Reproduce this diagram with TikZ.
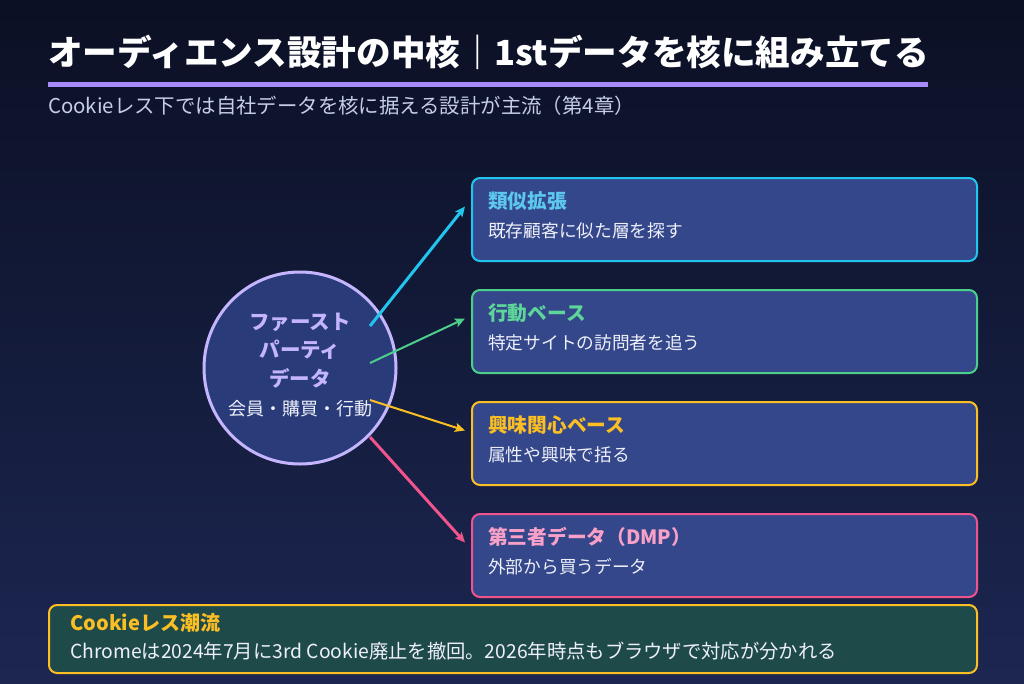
\documentclass[tikz,border=0pt]{standalone}
\usepackage{fontspec}
\setmainfont{Noto Sans CJK JP}
\usetikzlibrary{arrows.meta}
\definecolor{bgtop}{HTML}{0B1024}
\definecolor{bgbot}{HTML}{1C2651}
\definecolor{barpurple}{HTML}{A78BFA}
\definecolor{subtxt}{HTML}{C5CEE6}
\definecolor{lav}{HTML}{C4B5FD}
\definecolor{circfill}{HTML}{2A3B7A}
\definecolor{cardfill}{HTML}{34478A}
\definecolor{cyanc}{HTML}{22C5EE}
\definecolor{cyant}{HTML}{5CC8F0}
\definecolor{greenc}{HTML}{4CCF8A}
\definecolor{greent}{HTML}{5ED69A}
\definecolor{yelc}{HTML}{FBBF24}
\definecolor{pinkc}{HTML}{F0548C}
\definecolor{pinkt}{HTML}{F9A0C8}
\definecolor{notefill}{HTML}{1F4A4A}
\definecolor{bodytxt}{HTML}{EEF0FA}
\tikzset{
  card/.style={rectangle, rounded corners=8pt, line width=2pt, fill=cardfill, minimum width=505pt, minimum height=83pt, anchor=north west, inner sep=0},
  cardtitle/.style={anchor=west, inner sep=0, font=\fontsize{19.7}{23}\selectfont\bfseries},
  cardbody/.style={anchor=west, inner sep=0, text=bodytxt, font=\fontsize{17.7}{21}\selectfont},
  coretxt/.style={inner sep=0, text=lav, font=\fontsize{20.5}{24}\selectfont\bfseries},
  conn/.style={-{Stealth[length=10pt,width=9pt,inset=2pt]}},
}
\begin{document}
\begin{tikzpicture}[x=1pt,y=-1pt]
\useasboundingbox (0,0) rectangle (1024,683);
\shade[top color=bgtop,bottom color=bgbot] (0,0) rectangle (1024,683);

\node[anchor=west, inner sep=0, text=white, font=\fontsize{34.6}{38}\selectfont\bfseries] (title) at (48,52) {オーディエンス設計の中核｜1stデータを核に組み立てる};
\fill[barpurple] (48,82) rectangle (928,87);
\node[anchor=west, inner sep=0, text=subtxt, font=\fontsize{20.4}{24}\selectfont] (subtitle) at (48,106) {Cookieレス下では自社データを核に据える設計が主流（第4章）};

\node[circle, draw=lav, line width=3pt, fill=circfill, minimum size=192pt, inner sep=0] (core) at (300,368) {};
\node[coretxt] (c1) at (300,322) {ファースト};
\node[coretxt] (c2) at (300,350) {パーティ};
\node[coretxt] (c3) at (300,378) {データ};
\node[inner sep=0, text=bodytxt, font=\fontsize{18}{22}\selectfont] (c4) at (300,409) {会員・購買・行動};

\node[card, draw=cyanc] (b1) at (471,177) {};
\node[cardtitle, text=cyant] (b1t) at (488,201) {類似拡張};
\node[cardbody] (b1b) at (488,231) {既存顧客に似た層を探す};

\node[card, draw=greenc] (b2) at (471,289) {};
\node[cardtitle, text=greent] (b2t) at (488,313) {行動ベース};
\node[cardbody] (b2b) at (488,343) {特定サイトの訪問者を追う};

\node[card, draw=yelc] (b3) at (471,401) {};
\node[cardtitle, text=yelc] (b3t) at (488,425) {興味関心ベース};
\node[cardbody] (b3b) at (488,455) {属性や興味で括る};

\node[card, draw=pinkc] (b4) at (471,513) {};
\node[cardtitle, text=pinkt] (b4t) at (488,537) {第三者データ（DMP）};
\node[cardbody] (b4b) at (488,567) {外部から買うデータ};

\coordinate (s1) at (370,326);
\coordinate (s2) at (370,363);
\coordinate (s3) at (370,400);
\coordinate (s4) at (370,437);
\draw[conn, cyanc, line width=3pt] (s1) -- ([shift={(-6,-13)}]b1.west);
\draw[conn, greenc, line width=2pt] (s2) -- ([shift={(-6,-13)}]b2.west);
\draw[conn, yelc, line width=2pt] (s3) -- ([shift={(-6,-13)}]b3.west);
\draw[conn, pinkc, line width=3pt] (s4) -- ([shift={(-6,-13)}]b4.west);

\node[card, draw=yelc, fill=notefill, minimum width=928pt, minimum height=68pt] (note) at (48,604) {};
\node[cardtitle, text=yelc, font=\fontsize{20}{24}\selectfont\bfseries] (nt) at (70,623) {Cookieレス潮流};
\node[cardbody, font=\fontsize{19.3}{23}\selectfont] (nb) at (70,651) {Chromeは2024年7月に3rd Cookie廃止を撤回。2026年時点もブラウザで対応が分かれる};
\end{tikzpicture}
\end{document}
